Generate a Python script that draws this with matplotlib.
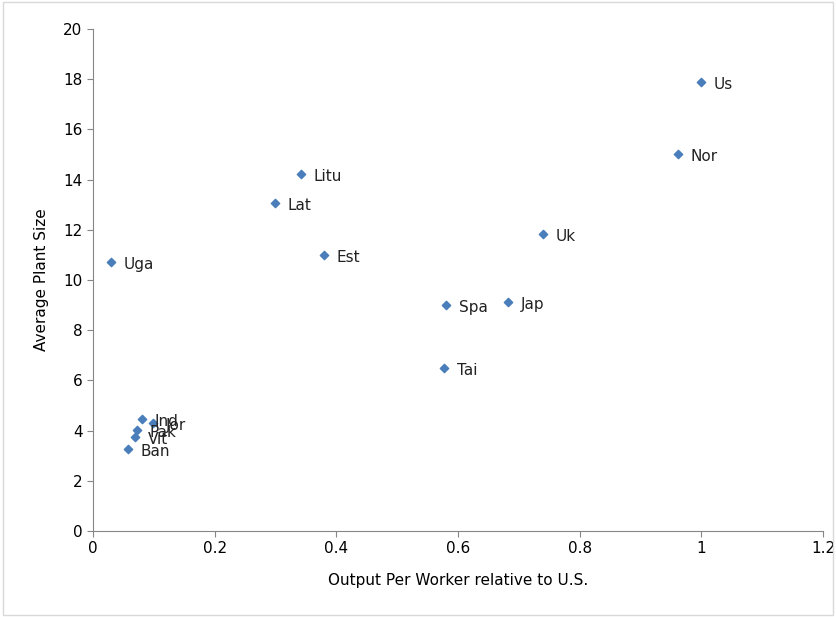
import matplotlib.pyplot as plt

# data
countries = ["Us", "Nor", "Uk", "Jap", "Spa", "Tai", "Est", "Litu", "Lat", "Uga",
             "Ind", "Jor", "Pak", "Vit", "Ban"]
output_per_worker = [1.0, 0.962, 0.740, 0.683, 0.581, 0.577, 0.380, 0.342, 0.299, 0.030,
                     0.081, 0.099, 0.072, 0.069, 0.058]
plant_size = [17.89, 15.02, 11.83, 9.12, 9.0, 6.49, 11.0, 14.22, 13.07, 10.72,
              4.46, 4.30, 4.02, 3.75, 3.27]

fig = plt.figure(figsize=(8.36, 6.17), dpi=100)
ax = fig.add_axes([93 / 836, 1 - 531 / 617, (823 - 93) / 836, (531 - 29) / 617])
ax.scatter(output_per_worker, plant_size, marker="D", s=18, color="#4a7ebb")
for name, x, y in zip(countries, output_per_worker, plant_size):
    ax.annotate(name, (x, y), xytext=(9, -5), textcoords="offset points",
                fontsize=11, color="#222222")

ax.set_xlim(0, 1.2)
ax.set_ylim(0, 20)
ax.set_xticks([0, 0.2, 0.4, 0.6, 0.8, 1, 1.2])
ax.set_xticklabels(["0", "0.2", "0.4", "0.6", "0.8", "1", "1.2"])
ax.set_yticks(range(0, 21, 2))
ax.tick_params(labelsize=11, length=4, direction="out", color="#868686")
for side in ["top", "right"]:
    ax.spines[side].set_visible(False)
for side in ["left", "bottom"]:
    ax.spines[side].set_color("#868686")
ax.set_xlabel("Output Per Worker relative to U.S.", fontsize=11, labelpad=12)
ax.set_ylabel("Average Plant Size", fontsize=11, labelpad=10)

fig.patches.append(plt.Rectangle((0.003, 0.003), 0.994, 0.994, transform=fig.transFigure,
                                 fill=False, edgecolor="#d9d9d9", linewidth=1))
fig.savefig("out.png", dpi=100)
